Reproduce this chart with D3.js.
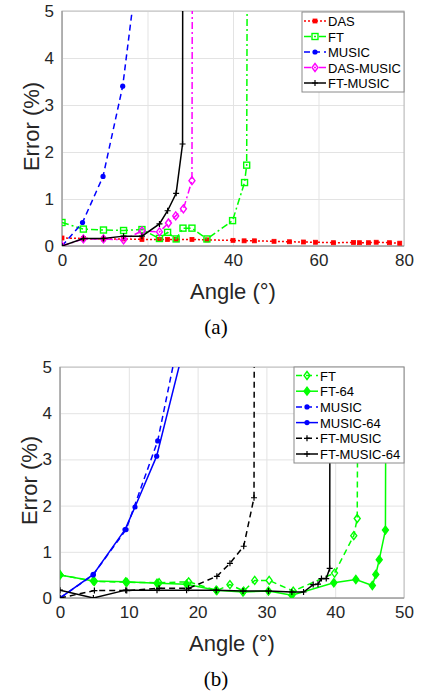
<!DOCTYPE html>
<html>
<head>
<meta charset="utf-8">
<script src="https://cdn.jsdelivr.net/npm/d3@7"></script>
<style>
  body { margin: 0; background: #fff; }
  svg { display: block; font-family: "Liberation Sans", Arial, sans-serif; }
</style>
</head>
<body>
<svg id="chart" width="421" height="695"></svg>
<script>
// Error vs angle, two MATLAB-style panels (a) and (b).
// Values; last point of each diverging curve lies above the 5 % top.

// panel (a)
const dasA      = [[0,0.17],[5,0.16],[9.7,0.15],[14.4,0.15],[18.7,0.14],[22.8,0.14],[24.7,0.14],[26.7,0.14],[30.4,0.14],[33.9,0.13],[40,0.12],[42.6,0.11],[45,0.11],[49.6,0.1],[53.2,0.09],[56.5,0.085],[59.3,0.08],[63.5,0.07],[68.2,0.075],[69.6,0.07],[71.7,0.07],[73.5,0.08],[76.6,0.07],[79,0.06]];
const ftA       = [[0,0.5],[5,0.36],[9.7,0.34],[14.4,0.33],[18.7,0.35],[22.8,0.16],[24.7,0.29],[26.7,0.15],[28.3,0.38],[30.4,0.38],[33.9,0.15],[39.9,0.54],[42.7,1.35],[43.2,1.72],[43.5,12]];
const musicA    = [[0,0],[4.8,0.5],[9.6,1.48],[14.2,3.4],[18.6,6.6]];
const dasMusicA = [[0,0],[5,0.15],[9.7,0.15],[14.4,0.13],[18.7,0.32],[22.8,0.3],[24.9,0.49],[26.6,0.64],[28.4,0.79],[30.4,1.39],[30.6,12]];
const ftMusicA  = [[0,0],[5,0.16],[9.7,0.16],[14.4,0.21],[18.7,0.21],[22.8,0.47],[24.7,0.75],[26.7,1.12],[28.2,2.17],[28.3,12]];

// panel (b)
const ftB         = ftA;
const ft64B       = [[0,0.5],[4.85,0.37],[9.55,0.35],[14.1,0.32],[18.4,0.3],[22.7,0.17],[26.6,0.13],[30.3,0.15],[33.7,0.06],[39.8,0.33],[43,0.4],[45.4,0.27],[45.9,0.51],[46.4,0.83],[47.3,1.47],[47.5,12]];
const musicB      = musicA;
const music64B    = [[0,0],[4.85,0.51],[9.45,1.48],[10.9,1.97],[14.05,3.07],[18.3,5.6]];
const ftMusicB    = ftMusicA;
const ftMusic64B  = [[0,0.17],[4.85,0],[9.55,0.17],[14.1,0.17],[18.4,0.17],[22.7,0.17],[26.6,0.15],[30.3,0.15],[33.7,0.13],[35.4,0.13],[36.8,0.29],[37.5,0.3],[38,0.42],[38.7,0.42],[39.2,0.64],[39.3,12]];

const ticksA = [0, 20, 40, 60, 80];
const ticksB = [0, 10, 20, 30, 40, 50];
const yTicks = [0, 1, 2, 3, 4, 5];

const DASH = "6,4", DASHDOT = "7,3,2,3", DOT = "2,2";

const svg = d3.select("#chart");

function marker(g, kind, color, x, y) {
  if (kind === "sq") {
    g.append("rect").attr("x", x - 3).attr("y", y - 3).attr("width", 6).attr("height", 6)
      .attr("fill", "none").attr("stroke", color).attr("stroke-width", 1.4);
  } else if (kind === "smallsq") {
    g.append("rect").attr("x", x - 2).attr("y", y - 2).attr("width", 4).attr("height", 4)
      .attr("fill", color).attr("stroke", color).attr("stroke-width", 0.8);
  } else if (kind === "dot") {
    g.append("circle").attr("cx", x).attr("cy", y).attr("r", 2.6).attr("fill", color);
  } else if (kind === "diamond" || kind === "fdiamond") {
    g.append("path").attr("d", `M${x},${y - 4}L${x + 3},${y}L${x},${y + 4}L${x - 3},${y}Z`)
      .attr("fill", kind === "fdiamond" ? color : "none").attr("stroke", color).attr("stroke-width", 1.4);
  } else if (kind === "plus") {
    g.append("path").attr("d", `M${x - 3},${y}H${x + 3}M${x},${y - 3}V${y + 3}`)
      .attr("stroke", color).attr("stroke-width", 1.2);
  }
}

function panel(cfg) {
  const { left, right, top, bottom } = cfg;
  const x = d3.scaleLinear().domain([0, cfg.xmax]).range([left, right]);
  const y = d3.scaleLinear().domain([0, 5]).range([bottom, top]);
  const g = svg.append("g");

  // grid
  g.append("g").attr("transform", `translate(0,${bottom})`)
    .call(d3.axisBottom(x).tickValues(cfg.xticks).tickSize(-(bottom - top)).tickFormat(""))
    .call(a => a.select(".domain").remove())
    .selectAll("line").attr("stroke", "#e3e3e3");
  g.append("g").attr("transform", `translate(${left},0)`)
    .call(d3.axisLeft(y).tickValues(yTicks).tickSize(-(right - left)).tickFormat(""))
    .call(a => a.select(".domain").remove())
    .selectAll("line").attr("stroke", "#e3e3e3");

  // box
  g.append("rect").attr("x", left).attr("y", top).attr("width", right - left).attr("height", bottom - top)
    .attr("fill", "none").attr("stroke", "#bdbdbd").attr("stroke-width", 1);
  g.append("path").attr("d", `M${left},${top}V${bottom}H${right}`)
    .attr("fill", "none").attr("stroke", "#8a8a8a").attr("stroke-width", 1);

  // tick labels
  const xa = g.append("g").attr("transform", `translate(0,${bottom})`)
    .call(d3.axisBottom(x).tickValues(cfg.xticks).tickFormat(d3.format("d")).tickSize(0).tickPadding(8));
  xa.select(".domain").remove();
  xa.selectAll("text").attr("font-size", 17).attr("fill", "#262626").attr("font-family", "Liberation Sans, Arial, sans-serif");
  const ya = g.append("g").attr("transform", `translate(${left},0)`)
    .call(d3.axisLeft(y).tickValues(yTicks).tickFormat(d3.format("d")).tickSize(0).tickPadding(8));
  ya.select(".domain").remove();
  ya.selectAll("text").attr("font-size", 17).attr("fill", "#262626").attr("font-family", "Liberation Sans, Arial, sans-serif");

  // axis titles
  g.append("text").attr("x", (left + right) / 2).attr("y", bottom + 53)
    .attr("text-anchor", "middle").attr("font-size", 22).attr("fill", "#262626").text("Angle (°)");
  g.append("text").attr("transform", `translate(${left - 23},${(top + bottom) / 2 - 2}) rotate(-90)`)
    .attr("text-anchor", "middle").attr("font-size", 22).attr("fill", "#262626").text("Error (%)");
  g.append("text").attr("x", cfg.capX).attr("y", bottom + 88)
    .attr("text-anchor", "middle").attr("font-size", 21)
    .attr("font-family", "Liberation Serif, Times New Roman, serif").attr("fill", "#000").text(cfg.caption);

  // series
  const clipId = "clip" + cfg.caption.replace(/\W/g, "");
  svg.append("clipPath").attr("id", clipId).append("rect")
    .attr("x", left).attr("y", top).attr("width", right - left).attr("height", bottom - top);
  const plot = g.append("g").attr("clip-path", `url(#${clipId})`);
  const line = d3.line().x(d => x(d[0])).y(d => y(d[1]));
  cfg.series.forEach(s => {
    plot.append("path").datum(s.data).attr("d", line)
      .attr("fill", "none").attr("stroke", s.color).attr("stroke-width", s.w || 1.5)
      .attr("stroke-dasharray", s.dash || null);
    const mg = plot.append("g");
    s.data.forEach(d => marker(mg, s.marker, s.color, x(d[0]), y(d[1])));
  });

  // legend
  const L = cfg.legend;
  g.append("rect").attr("x", L.x).attr("y", L.y).attr("width", right - L.x).attr("height", L.h)
    .attr("fill", "#fff").attr("stroke", "#8a8a8a").attr("stroke-width", 1);
  cfg.series.forEach((s, i) => {
    const ry = L.y + L.first + i * L.step;
    g.append("line").attr("x1", L.x + 2).attr("x2", L.x + L.len).attr("y1", ry).attr("y2", ry)
      .attr("stroke", s.color).attr("stroke-width", s.w || 1.5).attr("stroke-dasharray", s.dash || null);
    marker(g, s.marker, s.color, L.x + 2 + (L.len - 2) / 2, ry);
    g.append("text").attr("x", L.x + L.len + 2).attr("y", ry + 5)
      .attr("font-size", 13).attr("fill", "#000").text(s.name);
  });
}

panel({
  left: 62, right: 404, top: 11, bottom: 246, xmax: 80, xticks: ticksA,
  caption: "(a)", capX: 216,
  legend: { x: 302, y: 12, h: 80, first: 9, step: 15.5, len: 24 },
  series: [
    { name: "DAS", data: dasA, color: "#ff0000", dash: DOT, marker: "smallsq" },
    { name: "FT", data: ftA, color: "#00ff00", dash: DASHDOT, marker: "sq" },
    { name: "MUSIC", data: musicA, color: "#0000ff", dash: DASH, marker: "dot" },
    { name: "DAS-MUSIC", data: dasMusicA, color: "#ff00ff", dash: DASHDOT, marker: "diamond" },
    { name: "FT-MUSIC", data: ftMusicA, color: "#000000", marker: "plus" }
  ]
});

panel({
  left: 60, right: 404, top: 367, bottom: 598, xmax: 50, xticks: ticksB,
  caption: "(b)", capX: 216,
  legend: { x: 294, y: 367, h: 96, first: 8.5, step: 15.7, len: 24 },
  series: [
    { name: "FT", data: ftB, color: "#00ff00", dash: DASH, marker: "diamond" },
    { name: "FT-64", data: ft64B, color: "#00ff00", marker: "fdiamond" },
    { name: "MUSIC", data: musicB, color: "#0000ff", dash: DASH, marker: "dot" },
    { name: "MUSIC-64", data: music64B, color: "#0000ff", marker: "dot" },
    { name: "FT-MUSIC", data: ftMusicB, color: "#000000", dash: DASH, marker: "plus" },
    { name: "FT-MUSIC-64", data: ftMusic64B, color: "#000000", marker: "plus" }
  ]
});
</script>
</body>
</html>
